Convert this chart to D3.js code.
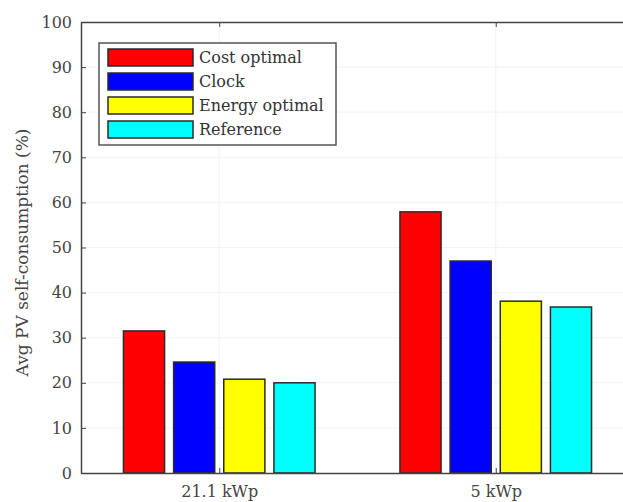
<!DOCTYPE html>
<html lang="en">
<head>
<meta charset="UTF-8">
<title>Avg PV self-consumption</title>
<style>
  body { margin: 0; background: #fff; }
  svg { display: block; }
  text { font-family: "DejaVu Serif", "Liberation Serif", serif; fill: #333; }
</style>
</head>
<body>
<div id="chart"></div>
<script src="https://d3js.org/d3.v7.min.js"></script>
<script>
var categories = ["21.1 kWp", "5 kWp"];
var seriesNames = ["Cost optimal", "Clock", "Energy optimal", "Reference"];
var seriesColors = ["#ff0000", "#0000ff", "#ffff00", "#00ffff"];
var costOptimal = [31.5, 57.9];
var clock = [24.6, 47.0];
var energyOptimal = [20.8, 38.1];
var reference = [20.0, 36.8];
var yTicks = [0, 10, 20, 30, 40, 50, 60, 70, 80, 90, 100];

var series = [costOptimal, clock, energyOptimal, reference];

var W = 623, H = 502;
var margin = { top: 22, right: -11, bottom: 29, left: 81 };
var width = W - margin.left - margin.right;
var height = H - margin.top - margin.bottom;

var svg = d3.select("#chart").append("svg")
    .attr("width", W)
    .attr("height", H);

var g = svg.append("g")
    .attr("transform", "translate(" + margin.left + "," + margin.top + ")");

// matlab-like: categories at 1..n, limits [0.5, n+0.5]
var x = d3.scaleLinear().domain([0.5, categories.length + 0.5]).range([0, width]);
var y = d3.scaleLinear().domain([0, 100]).range([height, 0]);

var groupW = x(1.693) - x(1); // total group span
var sub = d3.scaleBand()
    .domain(d3.range(series.length))
    .range([-groupW / 2, groupW / 2])
    .paddingInner(0.18)
    .paddingOuter(0);

// faint grid
g.append("g").selectAll("line")
    .data(yTicks.slice(1, -1))
    .enter().append("line")
    .attr("x1", 0).attr("x2", width)
    .attr("y1", function(d){ return y(d); })
    .attr("y2", function(d){ return y(d); })
    .style("stroke", "#f3f3f3")
    .style("stroke-width", 1);
g.append("g").selectAll("line")
    .data(categories)
    .enter().append("line")
    .attr("x1", function(d, i){ return x(i + 1); })
    .attr("x2", function(d, i){ return x(i + 1); })
    .attr("y1", 0).attr("y2", height)
    .style("stroke", "#f3f3f3")
    .style("stroke-width", 1);

// bars
series.forEach(function(vals, s){
    g.append("g").selectAll("rect")
        .data(vals)
        .enter().append("rect")
        .attr("x", function(d, i){ return x(i + 1) + sub(s); })
        .attr("width", sub.bandwidth())
        .attr("y", function(d){ return y(d); })
        .attr("height", function(d){ return height - y(d); })
        .style("fill", seriesColors[s])
        .style("stroke", "#2a2a2a")
        .style("stroke-width", 1.5);
});

// axes
var yAxis = d3.axisLeft(y).tickValues(yTicks).tickSizeInner(-5).tickSizeOuter(0).tickPadding(9);
var yG = g.append("g").call(yAxis);
yG.selectAll("text").style("font-size", "16px").style("fill", "#444");
yG.select(".domain").style("stroke", "#444").style("stroke-width", 1.5);
yG.selectAll("line").style("stroke", "#444");

var xAxis = d3.axisBottom(x).tickValues(d3.range(1, categories.length + 1))
    .tickFormat(function(d){ return categories[d - 1]; })
    .tickSizeInner(-5).tickSizeOuter(0).tickPadding(13);
var xG = g.append("g").attr("transform", "translate(0," + height + ")").call(xAxis);
xG.selectAll("text").style("font-size", "16px").style("fill", "#444");
xG.select(".domain").style("stroke", "#444").style("stroke-width", 1.5);
xG.selectAll("line").style("stroke", "#444");

// top border
var topAxis = d3.axisTop(x).tickValues(d3.range(1, categories.length + 1))
    .tickFormat("").tickSizeInner(-5).tickSizeOuter(0);
var tG = g.append("g").call(topAxis);
tG.select(".domain").style("stroke", "#444").style("stroke-width", 1.5);
tG.selectAll("line").style("stroke", "#444");

// y label
svg.append("text")
    .attr("transform", "translate(28," + (margin.top + height / 2 + 5) + ") rotate(-90)")
    .attr("text-anchor", "middle")
    .style("font-size", "17px")
    .style("fill", "#444")
    .text("Avg PV self-consumption (%)");

// legend
var leg = g.append("g").attr("transform", "translate(18,21)");
leg.append("rect")
    .attr("width", 237).attr("height", 102)
    .style("fill", "#fff")
    .style("stroke", "#555")
    .style("stroke-width", 1.5);
seriesNames.forEach(function(name, s){
    var row = leg.append("g").attr("transform", "translate(9," + (6 + s * 24) + ")");
    row.append("rect")
        .attr("width", 85).attr("height", 17)
        .style("fill", seriesColors[s])
        .style("stroke", "#2a2a2a")
        .style("stroke-width", 1.5);
    row.append("text")
        .attr("x", 91).attr("y", 14)
        .style("font-size", "16px")
        .style("fill", "#333")
        .text(name);
});
</script>
</body>
</html>
